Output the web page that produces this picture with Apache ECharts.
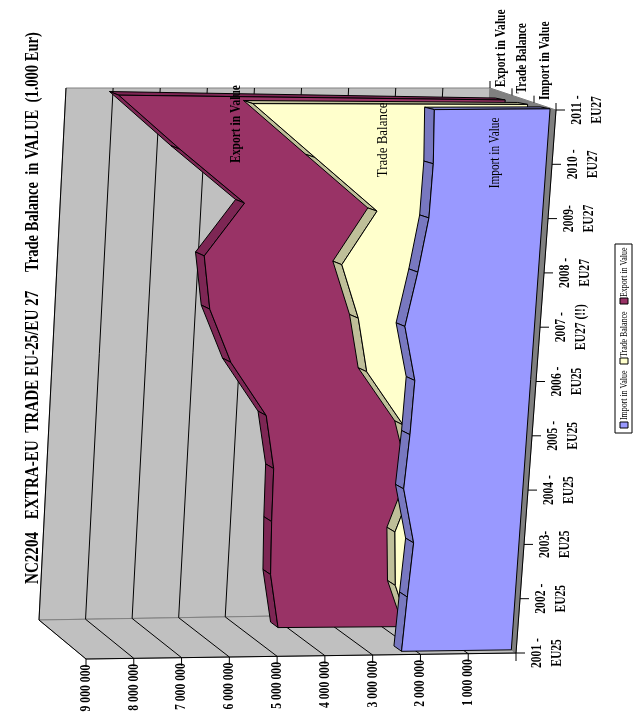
<!DOCTYPE html>
<html><head><meta charset="utf-8">
<style>html,body{margin:0;padding:0;background:#fff}#c{width:633px;height:720px}</style>
<script src="https://cdn.jsdelivr.net/npm/echarts@6/dist/echarts.min.js"></script>
</head><body><div id="c"></div>
<script>
const categories=['2001 -\nEU25','2002 -\nEU25','2003-\nEU25','2004 -\nEU25','2005 -\nEU25','2006 -\nEU25','2007 -\nEU27 (!!)','2008 -\nEU27','2009-\nEU27','2010 -\nEU27','2011 -\nEU27'];
const valueTicks=[1000000,2000000,3000000,4000000,5000000,6000000,7000000,8000000,9000000];
const valueLabels=['1 000 000','2 000 000','3 000 000','4 000 000','5 000 000','6 000 000','7 000 000','8 000 000','9 000 000'];
const importValues=[2300000,2260000,2210000,2500000,2450000,2430000,2720000,2530000,2380000,2370000,2430000];
const tradeValues=[1690000,2140000,2220000,1850000,2190000,3030000,3280000,3700000,3030000,4410000,5790000];
const exportValues=[4180000,4400000,4440000,4460000,4680000,5490000,6000000,6180000,5390000,6820000,8180000];
const depthNames=['Import in Value','Trade Balance','Export in Value'];
const titleParts=['NC2204','EXTRA-EU  TRADE EU-25/EU 27','Trade Balance  in VALUE  (1.000 Eur)'];

// view of the 3D box: screen position of its corners [category end, value end, depth end]
const view={f00:[516,653],f10:[556,110],f01:[86,659],f11:[127,114],b00:[458,613],b10:[490,88],b01:[39,620],b11:[66,88]};
const gridBox={left:86,top:110,width:430,height:543};
const FONT='"Liberation Serif"';
const N=categories.length-1, VMAX=9000000;

function lerp(a,b,t){return [a[0]+(b[0]-a[0])*t,a[1]+(b[1]-a[1])*t];}
function project(api,cat,val,d,inset){
  // the category scale only takes whole indices, so in-between positions are blended
  const lo=Math.floor(cat), hi=Math.min(N,lo+1);
  const p=lerp(api.coord([val,lo]),api.coord([val,hi]),cat-lo);
  const t=(gridBox.left+gridBox.width-p[0])/gridBox.width;
  const u=(gridBox.top+gridBox.height-p[1])/gridBox.height;
  const f=lerp(lerp(view.f00,view.f10,u),lerp(view.f01,view.f11,u),t);
  const b=lerp(lerp(view.b00,view.b10,u),lerp(view.b01,view.b11,u),t);
  const q=lerp(f,b,d);
  if(inset){q[0]+=6*d*(1-u)*(1-t);q[1]+=(5+4*u)*d*(1-0.9*t);}
  return q;
}
function poly(points,fill,stroke,lw){
  return {type:'polygon',shape:{points},style:{fill,stroke:stroke||'#000',lineWidth:lw==null?1:lw},silent:true};
}
function seg(a,b,stroke,lw){
  return {type:'line',shape:{x1:a[0],y1:a[1],x2:b[0],y2:b[1]},style:{stroke:stroke||'#000',lineWidth:lw||1},silent:true};
}
function txt(x,y,text,size,sx,weight,align){
  return {type:'text',x,y,rotation:Math.PI/2,scaleX:sx,silent:true,
    style:{text,fill:'#000',font:(weight||'bold')+' '+size+'px '+FONT,align:align||'center',verticalAlign:'middle',lineHeight:20}};
}

function renderFrame(params,api){
  const kids=[];
  const P=(c,v,d)=>project(api,c,v,d);
  kids.push(poly([P(0,0,1),P(N,0,1),P(N,VMAX,1),P(0,VMAX,1)],'#C0C0C0','#808080'));
  kids.push(poly([P(0,0,0),P(0,VMAX,0),P(0,VMAX,1),P(0,0,1)],'#C0C0C0','#808080'));
  kids.push(poly([P(0,0,0),P(N,0,0),P(N,0,1),P(0,0,1)],'#808080','#808080'));
  valueTicks.forEach(v=>{
    kids.push(seg(P(0,v,0),P(0,v,1)));
    kids.push(seg(P(0,v,1),P(N,v,1)));
  });
  return {type:'group',children:kids};
}
function makeBand(values,d0,d1,face,side){
  return function(params,api){
    if(params.dataIndex!==0) return null;
    const kids=[];
    const P=(c,v,d)=>project(api,c,v,d,true);
    kids.push(poly([P(N,0,d0),P(N,values[N],d0),P(N,values[N],d1),P(N,0,d1)],side));
    for(let i=N-1;i>=0;i--){
      kids.push(poly([P(i,values[i],d0),P(i+1,values[i+1],d0),P(i+1,values[i+1],d1),P(i,values[i],d1)],side));
    }
    const pts=[P(0,0,d0)];
    values.forEach((v,i)=>pts.push(P(i,v,d0)));
    pts.push(P(N,0,d0));
    kids.push(poly(pts,face));
    return {type:'group',children:kids};
  };
}
function renderAxes(params,api){
  const kids=[];
  const P=(c,v,d)=>project(api,c,v,d);
  kids.push(seg(P(0,VMAX,0),P(0,0,0)));
  kids.push(seg(P(0,0,0),P(N,0,0)));
  [0].concat(valueTicks).forEach((v,i)=>{
    const a=P(0,v,0);
    kids.push(seg(a,[a[0],a[1]+8]));
    if(i>0) kids.push(txt(a[0],a[1]+29,valueLabels[i-1],15,0.78));
  });
  categories.forEach((c,i)=>{
    const a=P(i,0,0);
    kids.push(seg(a,[a[0]+9,a[1]]));
    kids.push(txt(a[0]+31,a[1],c,14.5,0.8));
  });
  [0,1/3,2/3,1].forEach(d=>{
    const a=P(N,0,d);
    kids.push(seg(a,[a[0],a[1]-7]));
  });
  const dsx=[0.77,0.76,0.77], dx=[1,0,1], dy=[-6,-5,-4];
  depthNames.forEach((n,i)=>{
    const a=P(N,0,(i+0.5)/3+0.02);
    kids.push(txt(a[0]+dx[i],a[1]+dy[i],n,15,dsx[i],'bold','left'));
  });
  // labels lying on the series
  kids.push(txt.apply(null,P(9.18,1085000,0.09).concat(['Import in Value',15,0.75,'normal'])));
  kids.push(txt.apply(null,P(9.28,3000000,0.43).concat(['Trade Balance',15,0.864,'normal'])));
  kids.push(txt.apply(null,P(9.43,5660000,0.77).concat(['Export in Value',15,0.77,'bold'])));
  // title
  kids.push(txt(33,558,titleParts[0],19.5,0.775));
  kids.push(txt(33,405,titleParts[1],19.5,0.775));
  kids.push(txt(33,152,titleParts[2],19.5,0.747));
  // legend
  kids.push({type:'rect',shape:{x:615,y:244,width:17,height:189},style:{fill:'#fff',stroke:'#000',lineWidth:1},silent:true});
  const lg=[[425,'#9999FF','Import in Value',420],[361,'#FFFFCC','Trade Balance',357],[301,'#993366','Export in Value',297]];
  lg.forEach(l=>{
    kids.push({type:'rect',shape:{x:620,y:l[0]-3,width:8,height:6},style:{fill:l[1],stroke:'#000',lineWidth:1},silent:true});
    kids.push(txt(624,l[3],l[2],10.5,0.75,'normal','left'));
  });
  return {type:'group',children:kids};
}
function pairs(arr){return arr.map((v,i)=>[v,i]);}
function custom(name,data,renderItem,z){
  return {name,type:'custom',coordinateSystem:'cartesian2d',data,renderItem,clip:false,z,silent:true,animation:false,encode:{x:0,y:1}};
}
const chart=echarts.init(document.getElementById('c'));
chart.setOption({
  animation:false,
  grid:Object.assign({containLabel:false},gridBox),
  xAxis:{type:'value',min:0,max:VMAX,interval:1000000,inverse:true,show:false},
  yAxis:{type:'category',data:categories,boundaryGap:false,show:false},
  series:[
    custom('Frame',[[0,0]],renderFrame,1),
    custom('Export in Value',pairs(exportValues),makeBand(exportValues,0.77,0.92,'#993366','#7D2654'),2),
    custom('Trade Balance',pairs(tradeValues),makeBand(tradeValues,0.43,0.58,'#FFFFCC','#BFBF99'),3),
    custom('Import in Value',pairs(importValues),makeBand(importValues,0.09,0.24,'#9999FF','#7878C0'),4),
    custom('Axes',[[0,0]],renderAxes,5)
  ]
});
</script></body></html>
